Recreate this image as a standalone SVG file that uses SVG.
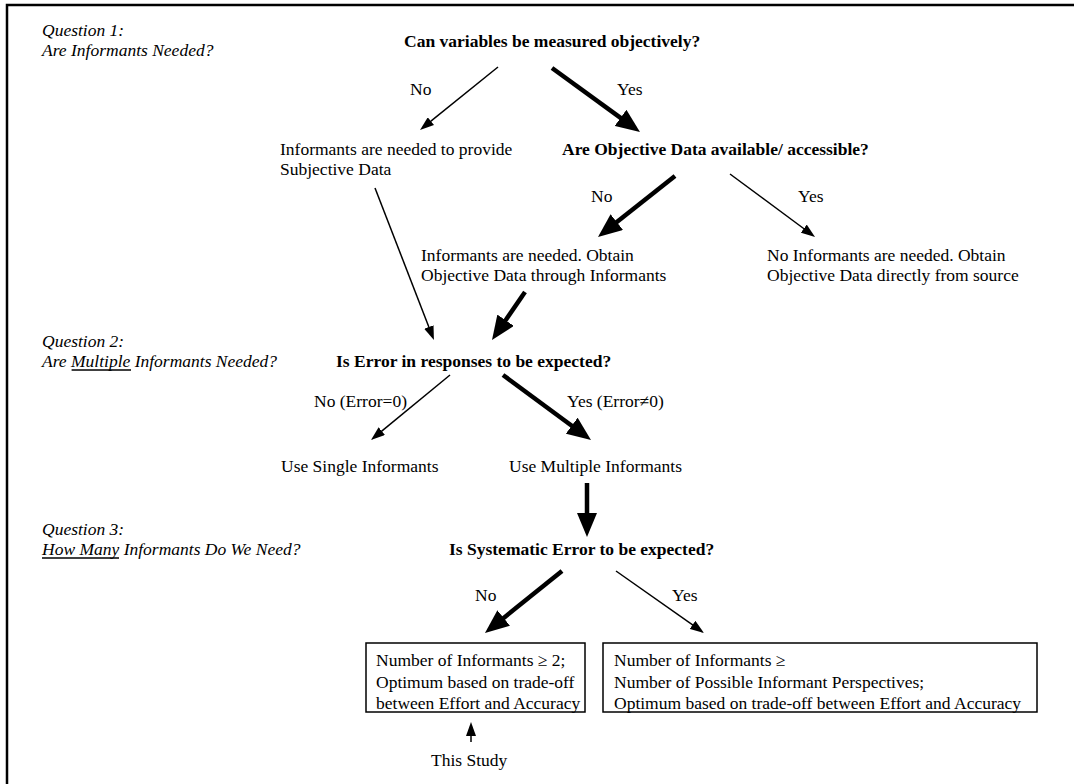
<svg xmlns="http://www.w3.org/2000/svg" width="1074" height="784" viewBox="0 0 1074 784">
<defs>
<marker id="thin" markerUnits="userSpaceOnUse" markerWidth="14" markerHeight="10" refX="4" refY="5" orient="auto"><path d="M0,0 L14,5 L0,10 z" fill="#000"/></marker>
<marker id="thick" markerUnits="userSpaceOnUse" markerWidth="24" markerHeight="20" refX="6" refY="10" orient="auto"><path d="M0,0 L24,10 L0,20 z" fill="#000"/></marker>
<style>
text{font-family:"Liberation Serif","Times New Roman",serif;font-size:17.5px;fill:#000}
.b{font-weight:bold}
.q{font-style:italic}
.tn{stroke:#000;stroke-width:1.5;fill:none;marker-end:url(#thin)}
.tk{stroke:#000;stroke-width:4.5;fill:none;marker-end:url(#thick)}
.box{fill:#fff;stroke:#000;stroke-width:1.5}
.ul{stroke:#000;stroke-width:1.6}
</style>
</defs>
<rect width="1074" height="784" fill="#fff"/>
<path d="M7,784 V5 H1074" fill="none" stroke="#000" stroke-width="2.5"/>

<g id="q1">
<text class="q" x="42" y="36">Question 1:</text>
<text class="q" x="42" y="56">Are Informants Needed?</text>
</g>
<g id="q2">
<text class="q" x="42" y="347">Question 2:</text>
<text class="q" x="42" y="367">Are Multiple Informants Needed?</text>
<line class="ul" x1="71.6" y1="370" x2="131" y2="370"/>
</g>
<g id="q3">
<text class="q" x="42" y="535">Question 3:</text>
<text class="q" x="42" y="555">How Many Informants Do We Need?</text>
<line class="ul" x1="42" y1="558" x2="119" y2="558"/>
</g>

<g id="n-measure"><text class="b" x="404" y="47">Can variables be measured objectively?</text></g>
<g id="n-subjective">
<text x="280" y="155">Informants are needed to provide</text>
<text x="280" y="175">Subjective Data</text>
</g>
<g id="n-available"><text class="b" x="562" y="155">Are Objective Data available/ accessible?</text></g>
<g id="n-through">
<text x="421" y="261">Informants are needed. Obtain</text>
<text x="421" y="281">Objective Data through Informants</text>
</g>
<g id="n-direct">
<text x="767" y="261">No Informants are needed. Obtain</text>
<text x="767" y="281">Objective Data directly from source</text>
</g>
<g id="n-error"><text class="b" x="336" y="367">Is Error in responses to be expected?</text></g>
<g id="n-single"><text x="281" y="472">Use Single Informants</text></g>
<g id="n-multiple"><text x="509" y="472">Use Multiple Informants</text></g>
<g id="n-systematic"><text class="b" x="449" y="555">Is Systematic Error to be expected?</text></g>
<g id="n-box1">
<rect class="box" x="366" y="643" width="219" height="69"/>
<text x="376" y="666">Number of Informants ≥ 2;</text>
<text x="376" y="688">Optimum based on trade-off</text>
<text x="376" y="709">between Effort and Accuracy</text>
</g>
<g id="n-box2">
<rect class="box" x="603" y="643" width="434" height="69"/>
<text x="614" y="666">Number of Informants ≥</text>
<text x="614" y="688">Number of Possible Informant Perspectives;</text>
<text x="614" y="709">Optimum based on trade-off between Effort and Accuracy</text>
</g>
<g id="n-study"><text x="431" y="766">This Study</text></g>

<g id="connectors">
<line class="tn" x1="498" y1="67" x2="427.8" y2="123.7"/>
<line class="tk" x1="552" y1="68" x2="625.4" y2="121.4"/>
<line class="tn" x1="375" y1="188" x2="430.3" y2="330.7"/>
<line class="tk" x1="675" y1="176" x2="612.1" y2="225.8"/>
<line class="tn" x1="730" y1="174" x2="807" y2="231"/>
<line class="tk" x1="525" y1="292" x2="502.2" y2="325.2"/>
<line class="tn" x1="450" y1="375" x2="378.7" y2="433.6"/>
<line class="tk" x1="503" y1="375" x2="576.5" y2="429.3"/>
<line class="tk" x1="587" y1="483" x2="587" y2="519"/>
<line class="tk" x1="562" y1="571" x2="499" y2="621.7"/>
<line class="tn" x1="616" y1="571" x2="695.8" y2="627.2"/>
<line class="tn" x1="471" y1="742" x2="471" y2="732"/>
<g id="labels">
<text x="410" y="95">No</text>
<text x="617" y="95">Yes</text>
<text x="591" y="202">No</text>
<text x="798" y="202">Yes</text>
<text x="314" y="407">No (Error=0)</text>
<text x="567" y="407">Yes (Error≠0)</text>
<text x="475" y="601">No</text>
<text x="672" y="601">Yes</text>
</g>
</g>
</svg>
